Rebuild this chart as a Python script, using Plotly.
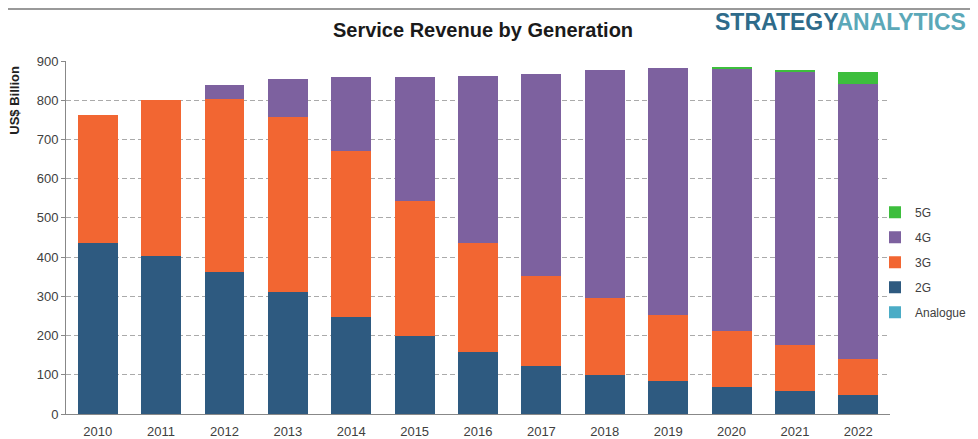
import plotly.graph_objects as go

years = ["2010", "2011", "2012", "2013", "2014", "2015", "2016", "2017", "2018", "2019", "2020", "2021", "2022"]
analogue = [0, 0, 0, 0, 0, 0, 0, 0, 0, 0, 0, 0, 0]
g2 = [435, 403, 362, 311, 247, 199, 158, 122, 100, 84, 69, 59, 48]
g3 = [328, 397, 441, 446, 423, 344, 278, 230, 196, 168, 143, 117, 92]
g4 = [0, 0, 36, 98, 188, 317, 426, 516, 580, 630, 670, 696, 702]
g5 = [0, 0, 0, 0, 0, 0, 0, 0, 0, 0, 3, 3, 30]

series = [
    ("Analogue", analogue, "#4BACC6"),
    ("2G", g2, "#2E5A80"),
    ("3G", g3, "#F26632"),
    ("4G", g4, "#7D619F"),
    ("5G", g5, "#3DBE3D"),
]

fig = go.Figure()
n = len(series)
for i, (name, vals, col) in enumerate(series):
    fig.add_trace(go.Bar(x=years, y=vals, name=name, legendgroup=name, legendrank=n - i,
                         marker=dict(color=col, line=dict(width=0))))

fig.update_layout(
    barmode="stack",
    bargap=0.37,
    width=970, height=431,
    margin=dict(l=58, r=88, t=53, b=25, autoexpand=False),
    paper_bgcolor="white", plot_bgcolor="white",
    font=dict(family="Liberation Sans, Arial", size=13, color="#404040"),
    title=dict(text="<b>Service Revenue by Generation</b>", x=0.4897, xanchor="center",
               xref="container", yref="container",
               y=0.949, yanchor="middle", font=dict(size=20, color="#1a1a1a")),
    legend=dict(traceorder="grouped", x=0.9818, xanchor="left", y=0.43, yanchor="middle",
                font=dict(size=12, color="#404040"), itemwidth=30, tracegroupgap=6,
                bgcolor="rgba(0,0,0,0)"),
    showlegend=True,
)
fig.update_yaxes(range=[0, 900], dtick=100, showgrid=True, gridcolor="#aaaaaa", griddash="5px,3px",
                 gridwidth=1, showline=True, linecolor="#888888", linewidth=1,
                 ticks="outside", ticklen=4, tickcolor="#888888", zeroline=False, automargin=False)
fig.update_xaxes(showline=True, linecolor="#888888", linewidth=1, ticks="outside", ticklen=5,
                 tickcolor="rgba(0,0,0,0)", showgrid=False, automargin=False)

fig.add_annotation(text="<b>US$ Billion</b>", textangle=-90, xref="paper", yref="paper",
                   x=-0.062, y=0.89, xanchor="center", yanchor="middle", showarrow=False,
                   font=dict(size=13, color="#222222"))
fig.add_annotation(text="<b><span style='color:#2E6B8A'>STRATEGY</span><span style='color:#5BA8B8'>ANALYTICS</span></b>",
                   xref="paper", yref="paper", x=1.0947, y=1.110, xanchor="right", yanchor="middle",
                   showarrow=False, font=dict(size=23, family="Liberation Sans, Arial"))
fig.add_shape(type="line", xref="paper", yref="paper", x0=-0.08, x1=1.107, y0=1.147, y1=1.147,
              line=dict(color="#999999", width=2))

fig.write_html("out.html")
